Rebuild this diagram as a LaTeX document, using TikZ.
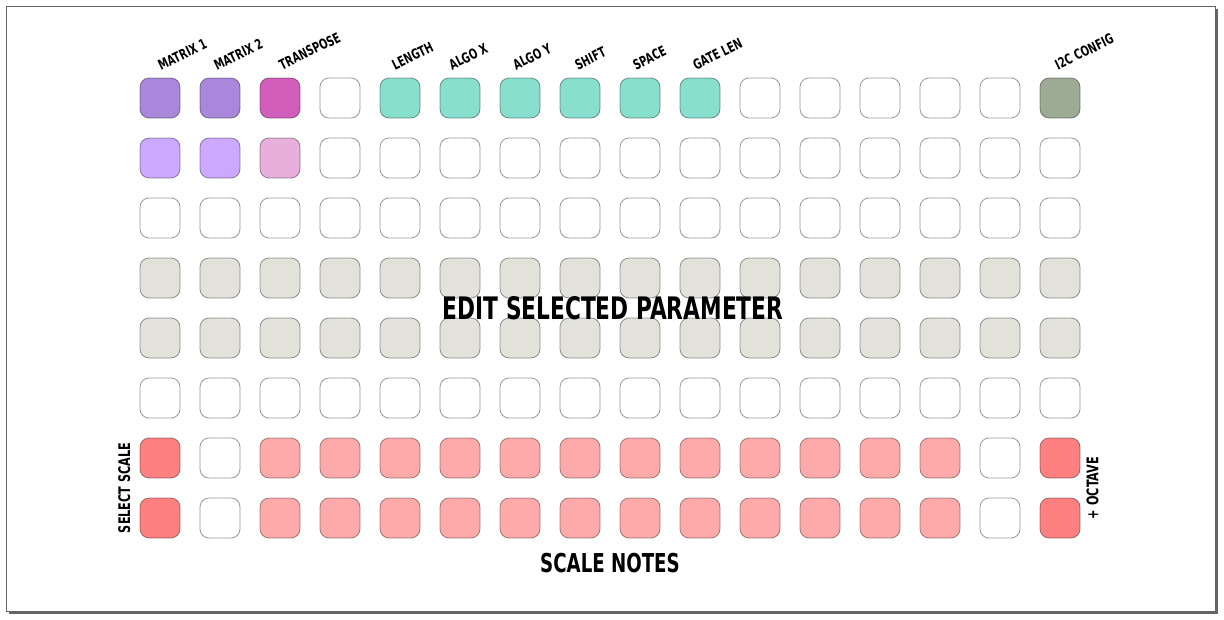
\documentclass[tikz,border=0pt]{standalone}
\usepackage{fontspec}
\newfontfamily\panelfont[FakeStretch=0.7]{DejaVu Sans}
\usepackage{tikz}
\usetikzlibrary{positioning, calc}

\definecolor{frameGray}{HTML}{666666}
\definecolor{padMat}{HTML}{A987DA}
\definecolor{padMatLo}{HTML}{CCA9FF}
\definecolor{padTr}{HTML}{D15EBB}
\definecolor{padTrLo}{HTML}{E8AFDC}
\definecolor{padAlgo}{HTML}{89DFCE}
\definecolor{padCfg}{HTML}{9EAB94}
\definecolor{padEdit}{HTML}{E2E2DB}
\definecolor{padScale}{HTML}{FF8080}
\definecolor{padNote}{HTML}{FFAAAA}

\begin{document}
\begin{tikzpicture}[
  x=1pt, y=1pt,
  pad/.style      = {draw=black, draw opacity=0.4, line width=0.8pt, rounded corners=9pt,
                     minimum size=40pt, inner sep=0pt},
  toplabel/.style = {font=\panelfont\bfseries\fontsize{14}{14}\selectfont, rotate=26,
                     anchor=south west, inner sep=0pt},
  sidelabel/.style= {font=\panelfont\bfseries\fontsize{16}{16}\selectfont, rotate=90, inner sep=0pt},
  title/.style    = {font=\panelfont\bfseries\fontsize{31}{31}\selectfont, inner sep=0pt},
  subtitle/.style = {font=\panelfont\bfseries\fontsize{26}{26}\selectfont, inner sep=0pt},
]
  \useasboundingbox (0,0) rectangle (1224,-619);

  % panel with drop shadow
  \fill[frameGray] (9,-9) rectangle (1218,-614);
  \filldraw[fill=white, draw=frameGray, line width=1pt] (6,-6) rectangle (1215,-611);

  % 16 x 8 grid of pads, one colour list per row
  \foreach \rowfill [count=\r from 0] in {%
    {padMat,padMat,padTr,white,padAlgo,padAlgo,padAlgo,padAlgo,padAlgo,padAlgo,white,white,white,white,white,padCfg},%
    {padMatLo,padMatLo,padTrLo,white,white,white,white,white,white,white,white,white,white,white,white,white},%
    {white,white,white,white,white,white,white,white,white,white,white,white,white,white,white,white},%
    {padEdit,padEdit,padEdit,padEdit,padEdit,padEdit,padEdit,padEdit,padEdit,padEdit,padEdit,padEdit,padEdit,padEdit,padEdit,padEdit},%
    {padEdit,padEdit,padEdit,padEdit,padEdit,padEdit,padEdit,padEdit,padEdit,padEdit,padEdit,padEdit,padEdit,padEdit,padEdit,padEdit},%
    {white,white,white,white,white,white,white,white,white,white,white,white,white,white,white,white},%
    {padScale,white,padNote,padNote,padNote,padNote,padNote,padNote,padNote,padNote,padNote,padNote,padNote,padNote,white,padScale},%
    {padScale,white,padNote,padNote,padNote,padNote,padNote,padNote,padNote,padNote,padNote,padNote,padNote,padNote,white,padScale}%
  }{
    \foreach \f [count=\c from 0] in \rowfill {
      \node[pad, fill=\f] (p\r-\c) at ({160+60*\c}, {-98-60*\r}) {};
    }
  }

  % function labels above the top row
  \foreach \c/\dx/\txt in {0/1/MATRIX 1, 1/-3/MATRIX 2, 2/2/TRANSPOSE, 4/-5/LENGTH, 5/-8/ALGO X,
                           6/-4/ALGO Y, 7/-2/SHIFT, 8/-4/SPACE, 9/-4/GATE LEN, 15/-2/I2C CONFIG}
    \node[toplabel] (lab\c) at ([xshift=\dx pt, yshift=7pt]p0-\c.north) {\txt};

  \node[sidelabel, anchor=south] (selscale) at ($(p6-0.west)!0.5!(p7-0.west)+(-9,0)$) {SELECT SCALE};
  \node[sidelabel, anchor=north] (octave)   at ($(p6-15.east)!0.5!(p7-15.east)+(6,0)$) {+ OCTAVE};

  \node[title, xshift=3pt] (edit) at ($(p3-7)!0.5!(p4-8)$) {EDIT SELECTED PARAMETER};
  \node[subtitle] (notes) at ($(p7-7.south)!0.5!(p7-8.south)+(0,-25)$) {SCALE NOTES};
\end{tikzpicture}
\end{document}
